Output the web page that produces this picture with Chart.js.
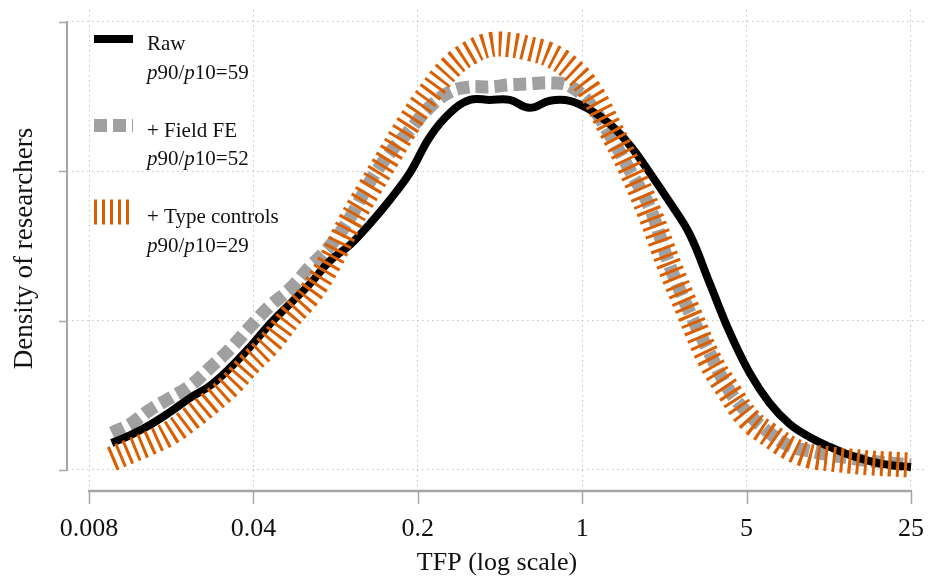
<!DOCTYPE html>
<html>
<head>
<meta charset="utf-8">
<script src="https://cdn.jsdelivr.net/npm/chart.js@4/dist/chart.umd.min.js"></script>
<style>
  html, body { margin: 0; padding: 0; background: #fff; }
  #wrap { width: 932px; height: 584px; }
</style>
</head>
<body>
<div id="wrap"><canvas id="c" width="932" height="584"></canvas></div>
<script>
/* ─── data ─── */
const TFP = [0.0100, 0.0120, 0.0145, 0.0177, 0.0215, 0.0261, 0.0318, 0.0387, 0.0470, 0.0572,
             0.0695, 0.0846, 0.103, 0.125, 0.152, 0.185, 0.225, 0.274, 0.333, 0.405,
             0.492, 0.598, 0.728, 0.885, 1.08, 1.31, 1.59, 1.94, 2.35, 2.86,
             3.48, 4.23, 5.15, 6.26, 7.62, 9.26, 11.3, 13.7, 16.7, 20.3, 25];

const RAW = [0.0181, 0.0234, 0.0301, 0.0388, 0.0482, 0.0563, 0.0683, 0.0824, 0.0978, 0.1112,
             0.1246, 0.1400, 0.1507, 0.1648, 0.1808, 0.1989, 0.2230, 0.2391, 0.2478, 0.2478,
             0.2478, 0.2425, 0.2472, 0.2472, 0.2411, 0.2317, 0.2177, 0.1989, 0.1795, 0.1581,
             0.1252, 0.0924, 0.0650, 0.0449, 0.0308, 0.0221, 0.0154, 0.0100, 0.0060, 0.0033, 0.0020];

const FIELD_FE = [0.0248, 0.0308, 0.0402, 0.0482, 0.0563, 0.0683, 0.0810, 0.0958, 0.1098, 0.1212,
                  0.1360, 0.1500, 0.1688, 0.1929, 0.2123, 0.2277, 0.2431, 0.2532, 0.2565, 0.2565,
                  0.2579, 0.2585, 0.2592, 0.2572, 0.2451, 0.2244, 0.2009, 0.1755, 0.1373, 0.1058,
                  0.0784, 0.0529, 0.0368, 0.0248, 0.0161, 0.0127, 0.0100, 0.0080, 0.0060, 0.0047, 0.0033];

const TYPE_CTRL = [0.0074, 0.0127, 0.0181, 0.0248, 0.0342, 0.0449, 0.0569, 0.0717, 0.0851, 0.1025,
                   0.1179, 0.1393, 0.1661, 0.1889, 0.2110, 0.2331, 0.2525, 0.2693, 0.2793, 0.2847,
                   0.2847, 0.2820, 0.2780, 0.2693, 0.2538, 0.2291, 0.2029, 0.1715, 0.1366, 0.1045,
                   0.0737, 0.0522, 0.0335, 0.0234, 0.0147, 0.0094, 0.0074, 0.0060, 0.0047, 0.0040, 0.0033];

const SERIES_NAMES = ['Raw', '+ Field FE', '+ Type controls'];
const P90_P10 = [59, 52, 29];

const X_TICKS = [0.008, 0.04, 0.2, 1, 5, 25];
const Y_TICKS = [0, 0.1, 0.2, 0.3];

/* ─── style ─── */
const FONT = "'Liberation Serif', 'Times New Roman', serif";
const AXIS_COLOR = '#a6a6a6';
const GRID_COLOR = '#c4c4c4';
const ORANGE = '#d95f02';
const GREY = '#a0a0a0';

// axis limits chosen so the tick values land where they sit in the figure
const X_MIN = 0.006449, X_MAX = 29.24;
const Y_MIN = -0.0114, Y_MAX = 0.308;

const pts = ys => TFP.map((x, i) => ({ x, y: ys[i] }));

/* ─── range-frame axes + in-plot legend ─── */
const frame = {
    id: 'frame',
    afterDraw(chart) {
        const { ctx, chartArea, scales: { x, y } } = chart;
        ctx.save();
        ctx.strokeStyle = AXIS_COLOR;

        // x axis, offset below plot area
        const ax = chartArea.bottom + 4;
        const xa = x.getPixelForValue(X_TICKS[0]), xb = x.getPixelForValue(X_TICKS[X_TICKS.length - 1]);
        ctx.lineWidth = 2.5;
        ctx.beginPath(); ctx.moveTo(xa - 1, ax); ctx.lineTo(xb + 1, ax); ctx.stroke();
        ctx.lineWidth = 1.5;
        X_TICKS.forEach(v => {
            const px = Math.round(x.getPixelForValue(v)) + 0.5;
            ctx.beginPath(); ctx.moveTo(px, ax); ctx.lineTo(px, ax + 13); ctx.stroke();
        });

        // y axis at left edge
        const ay = chartArea.left;
        const ya = y.getPixelForValue(Y_TICKS[0]), yb = y.getPixelForValue(Y_TICKS[Y_TICKS.length - 1]);
        ctx.lineWidth = 2;
        ctx.beginPath(); ctx.moveTo(ay, ya + 1); ctx.lineTo(ay, yb - 1); ctx.stroke();
        ctx.lineWidth = 1.5;
        Y_TICKS.forEach(v => {
            const py = Math.round(y.getPixelForValue(v)) + 0.5;
            ctx.beginPath(); ctx.moveTo(ay - 8, py); ctx.lineTo(ay, py); ctx.stroke();
        });

        // legend
        const lx0 = 94, lx1 = 133, tx = 147;
        chart.data.datasets.forEach((ds, i) => {
            const off = i * 86.5;
            ctx.save();
            ctx.strokeStyle = ds.borderColor;
            ctx.lineWidth = ds.borderWidth;
            ctx.lineCap = 'butt';
            ctx.setLineDash(ds.borderDash || []);
            ctx.beginPath(); ctx.moveTo(lx0, 39 + off); ctx.lineTo(lx1, 39 + off); ctx.stroke();
            ctx.restore();

            ctx.fillStyle = '#111';
            ctx.textBaseline = 'alphabetic';
            ctx.font = `21px ${FONT}`;
            ctx.fillText(SERIES_NAMES[i], tx, 50 + off);

            const parts = [['p', true], ['90/', false], ['p', true], ['10=' + P90_P10[i], false]];
            let cx = tx;
            parts.forEach(([t, it]) => {
                ctx.font = `${it ? 'italic ' : ''}21px ${FONT}`;
                ctx.fillText(t, cx, 78.5 + off);
                cx += ctx.measureText(t).width;
            });
        });
        ctx.restore();
    }
};

new Chart(document.getElementById('c'), {
    type: 'line',
    data: {
        datasets: [
            {
                label: SERIES_NAMES[0], data: pts(RAW),
                borderColor: '#000', borderWidth: 8, order: 1,
            },
            {
                label: SERIES_NAMES[1], data: pts(FIELD_FE),
                borderColor: GREY, borderWidth: 13, borderDash: [13, 6], order: 2,
            },
            {
                label: SERIES_NAMES[2], data: pts(TYPE_CTRL),
                borderColor: ORANGE, borderWidth: 25, borderDash: [3, 5], order: 0,
            },
        ].map(d => ({ pointRadius: 0, tension: 0.4, fill: false, borderCapStyle: 'butt', ...d })),
    },
    options: {
        responsive: false,
        animation: false,
        events: [],
        layout: { padding: { top: 10, right: 5, left: 0, bottom: 0 } },
        plugins: { legend: { display: false }, tooltip: { enabled: false } },
        scales: {
            x: {
                type: 'logarithmic',
                min: X_MIN, max: X_MAX,
                afterBuildTicks: s => { s.ticks = X_TICKS.map(v => ({ value: v })); },
                afterFit: s => { s.height = 97; s.paddingLeft = 0; s.paddingRight = 0; },
                ticks: {
                    autoSkip: false, maxRotation: 0, padding: 27,
                    color: '#111', font: { family: FONT, size: 26 },
                    callback: v => String(v),
                },
                grid: { color: GRID_COLOR, lineWidth: 1, drawTicks: false },
                border: { display: false, dash: [1.5, 3.5] },
                title: {
                    display: true, text: 'TFP (log scale)', color: '#111',
                    font: { family: FONT, size: 26 }, padding: { top: 0, bottom: 5 },
                },
            },
            y: {
                min: Y_MIN, max: Y_MAX,
                afterBuildTicks: s => { s.ticks = Y_TICKS.map(v => ({ value: v })); },
                afterFit: s => { s.width = 67; s.paddingTop = 0; s.paddingBottom = 0; },
                ticks: { display: false },
                grid: { color: GRID_COLOR, lineWidth: 1, drawTicks: false },
                border: { display: false, dash: [1.5, 3.5] },
                title: {
                    display: true, text: 'Density of researchers', color: '#111',
                    font: { family: FONT, size: 27 }, padding: { top: 9, bottom: 0 },
                },
            },
        },
    },
    plugins: [frame],
});
</script>
</body>
</html>
